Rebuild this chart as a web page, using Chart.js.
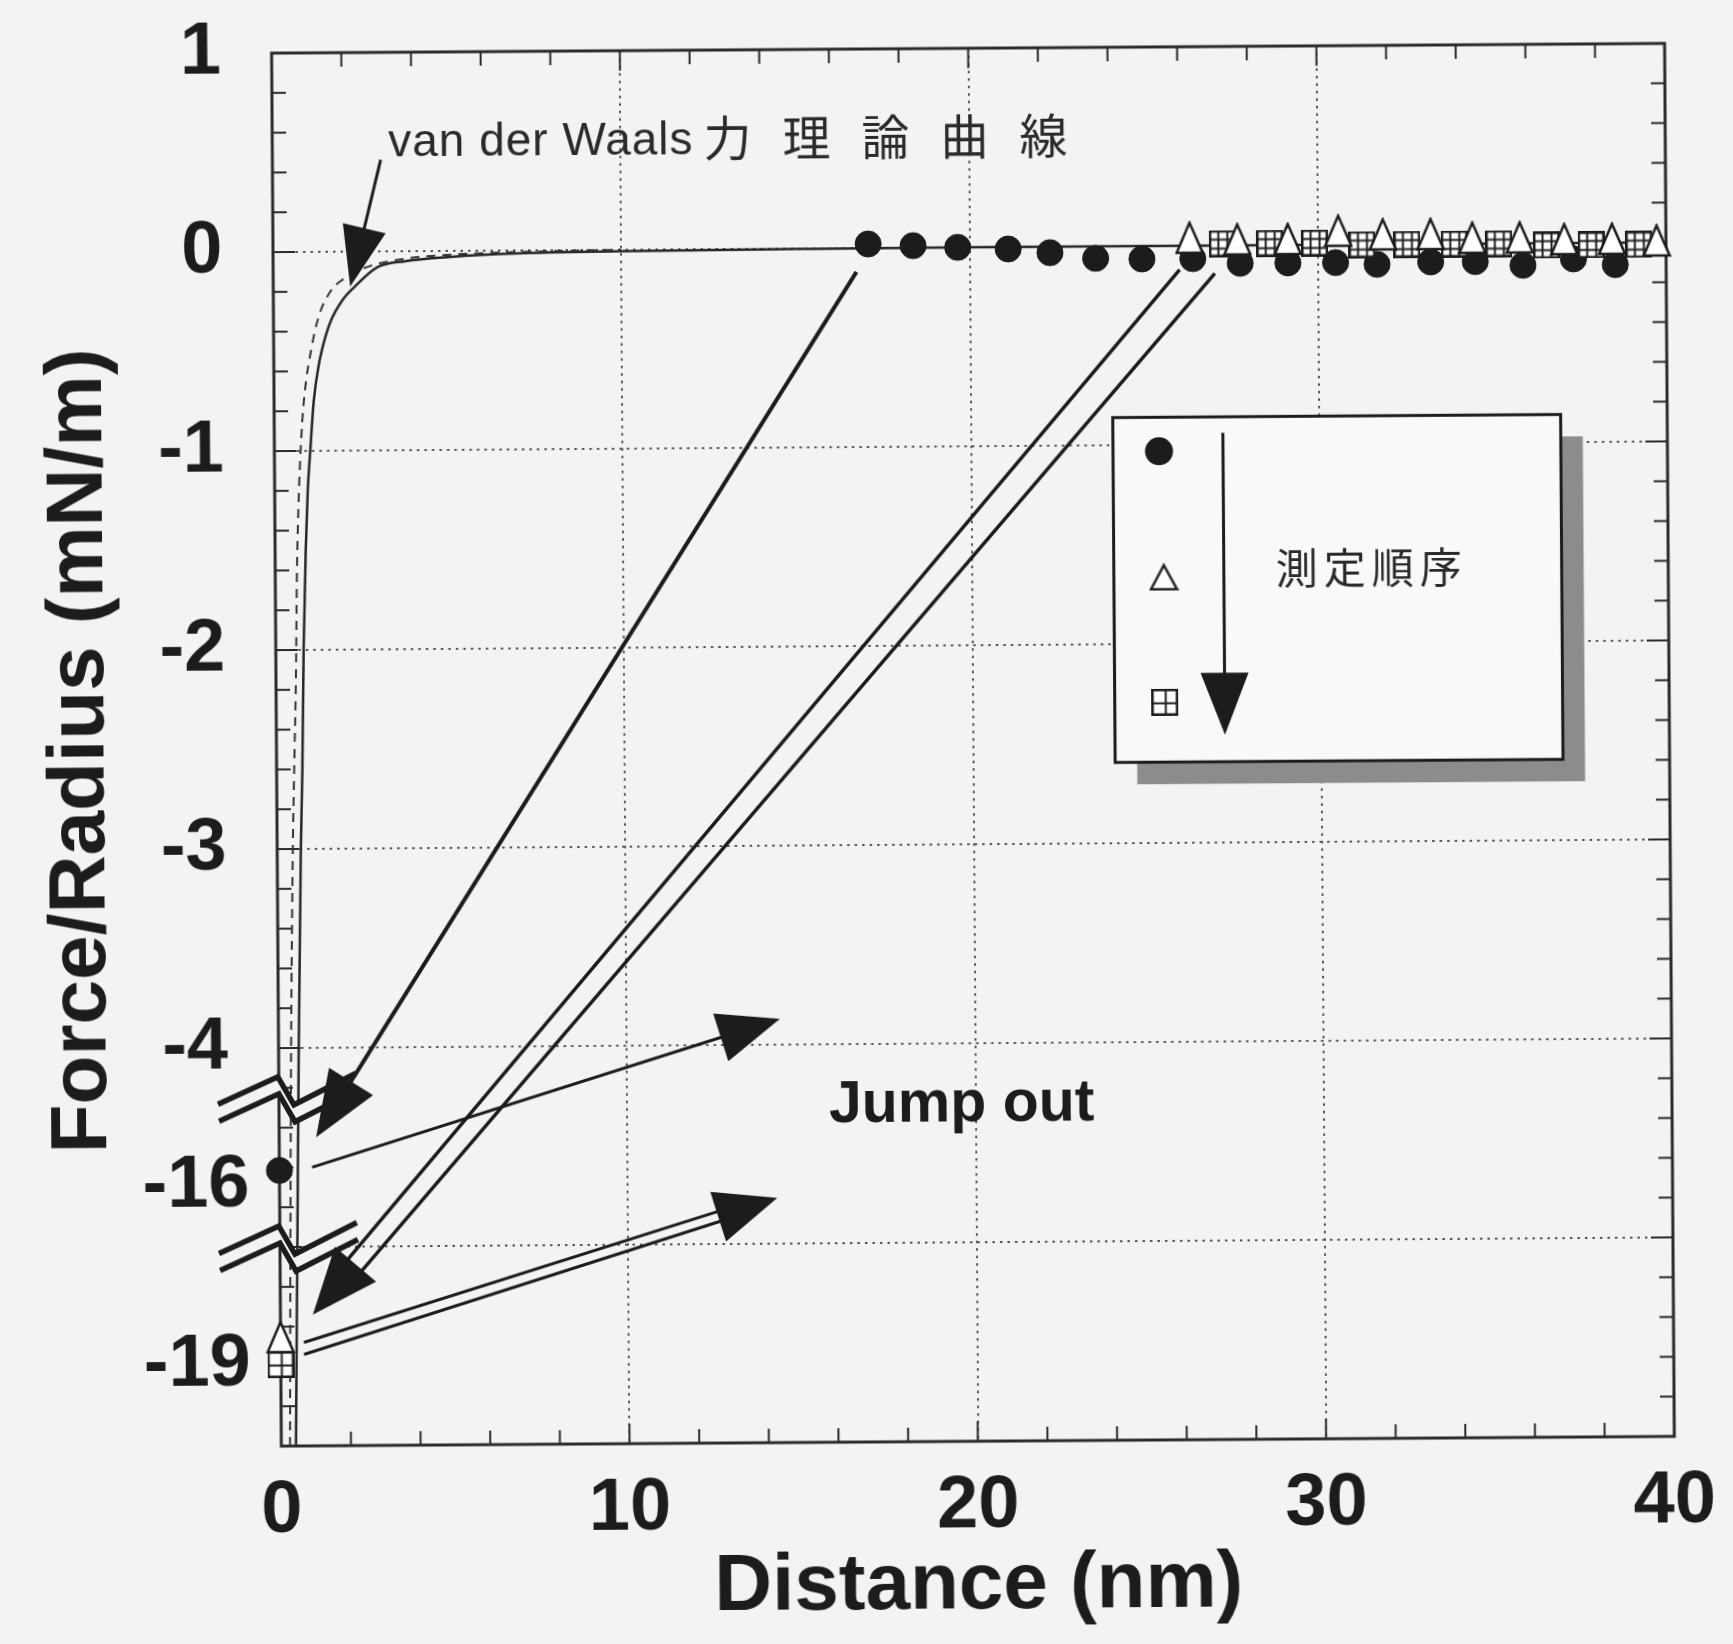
<!DOCTYPE html>
<html>
<head>
<meta charset="utf-8">
<title>Force/Radius vs Distance</title>
<script src="https://cdn.jsdelivr.net/npm/chart.js@4.4.1/dist/chart.umd.min.js"></script>
<style>
  html, body { margin: 0; padding: 0; background: #f3f3f1; overflow: hidden; }
  /* the scanned figure sits a little crooked on the page */
  #chart { display: block; transform: rotate(-0.4deg); transform-origin: 50% 50%; }
</style>
</head>
<body>
<canvas id="chart" width="1733" height="1644"></canvas>
<script>
// ---------- axes ----------
const xTicks = [0, 10, 20, 30, 40];
const xGridAt = [10, 20, 30];
const yTickPos = [1, 0, -1, -2, -3, -4, -4.69, -5, -5.59, -6];
const yTickText = ['1 ', '0 ', '-1 ', '-2 ', '-3 ', '-4 ', '-16', '', '-19', ''];
const yGridAt = [0, -1, -2, -3, -4, -5];

// broken y axis: the real values -16 / -19 are shown at these axis positions
const breakValues = [-16, -19];
const breakPos = [-4.69, -5.59];
const breakMarks = [-4.24, -4.99];

// ---------- measured points (Distance nm, Force/Radius mN/m) ----------
const circX = [0, 17.09, 18.38, 19.66, 21.11, 22.31, 23.62, 24.95, 26.41, 27.77, 29.14, 30.51, 31.70, 33.24, 34.52, 35.89, 37.34, 38.54];
const circY = [-15.7, 0.02, 0.01, 0.0, -0.01, -0.03, -0.06, -0.065, -0.065, -0.09, -0.09, -0.09, -0.10, -0.09, -0.09, -0.11, -0.08, -0.11];

const triX = [0, 26.32, 27.69, 29.14, 30.59, 31.87, 33.24, 34.44, 35.80, 37.08, 38.45, 39.73];
const triY = [-18.45, 0.04, 0.03, 0.03, 0.07, 0.05, 0.05, 0.03, 0.03, 0.02, 0.02, 0.01];

const sqX = [0, 27.26, 28.62, 29.91, 31.27, 32.56, 33.92, 35.20, 36.57, 37.85, 39.22];
const sqY = [-19.0, 0.01, 0.01, 0.01, 0.0, 0.0, 0.0, 0.0, -0.01, -0.01, -0.01];

// van der Waals theoretical curve (solid) and the second curve (dashed)
const vdwX = [0.42, 0.50, 0.58, 0.68, 0.74, 0.80, 0.88, 0.95, 1.03, 1.14, 1.29, 1.45, 1.64, 2.0, 2.32, 2.99, 3.8, 5.1, 7.0, 10, 15, 20, 40];
const vdwY = [-6.0, -5.0, -4.0, -3.0, -2.6, -2.0, -1.5, -1.2, -1.0, -0.75, -0.57, -0.45, -0.35, -0.24, -0.18, -0.08, -0.05, -0.03, -0.015, -0.008, -0.003, 0, 0];

const dashX = [0.25, 0.30, 0.36, 0.45, 0.52, 0.57, 0.62, 0.68, 0.78, 0.88, 1.09, 1.29, 1.64, 2.0, 2.67, 3.7, 5.0, 7.0, 10];
const dashY = [-6.0, -5.0, -4.0, -3.0, -2.5, -2.17, -1.64, -1.28, -0.92, -0.71, -0.48, -0.33, -0.2, -0.14, -0.08, -0.04, -0.02, -0.008, 0];

const BG = '#f3f3f1';
const INK = '#1c1c1c';
const FONT = '"Liberation Sans", Arial, sans-serif';
const CJK = '"Noto Sans CJK JP", sans-serif';

function axisY(v) {
    if (v > -10) return v;
    const k = v > -17.5 ? 0 : 1;
    return breakPos[k] + (v - breakValues[k]) * 0.25;
}

const pts = (xs, ys, f) => xs.map((x, i) => ({ x: x, y: f ? f(ys[i]) : ys[i] }));

/* square marker with a grid inside */
function gridSquare(n, size) {
    const c = document.createElement('canvas');
    c.width = c.height = size;
    const g = c.getContext('2d');
    g.fillStyle = '#fff';
    g.fillRect(0, 0, size, size);
    g.strokeStyle = INK;
    g.lineWidth = 2.5;
    g.strokeRect(1.25, 1.25, size - 2.5, size - 2.5);
    g.lineWidth = 2;
    for (let k = 1; k < n; k++) {
        const p = Math.round(k * size / n) + 0.5;
        g.beginPath(); g.moveTo(p, 0); g.lineTo(p, size); g.stroke();
        g.beginPath(); g.moveTo(0, p); g.lineTo(size, p); g.stroke();
    }
    return c;
}

/* open triangle, a bit taller than wide */
function openTriangle(w, h) {
    const c = document.createElement('canvas');
    c.width = w + 4;
    c.height = h + 4;
    const g = c.getContext('2d');
    g.beginPath();
    g.moveTo(c.width / 2, 2);
    g.lineTo(w + 2, h + 2);
    g.lineTo(2, h + 2);
    g.closePath();
    g.fillStyle = '#fff';
    g.fill();
    g.strokeStyle = INK;
    g.lineWidth = 2.5;
    g.lineJoin = 'miter';
    g.stroke();
    return c;
}

const sq3 = gridSquare(3, 27);
const sq2 = gridSquare(2, 27);
const tri = openTriangle(26, 30);
const triSmall = openTriangle(26, 24);

/* ---------- drawing helpers ---------- */
function line(ctx, x1, y1, x2, y2) {
    ctx.beginPath(); ctx.moveTo(x1, y1); ctx.lineTo(x2, y2); ctx.stroke();
}

// starts: one [x, y] pixel start per shaft line (two for a hollow shaft)
function arrow(ctx, starts, x2, y2, o) {
    const mx = starts.reduce((s, p) => s + p[0], 0) / starts.length;
    const my = starts.reduce((s, p) => s + p[1], 0) / starts.length;
    const a = Math.atan2(y2 - my, x2 - mx), c = Math.cos(a), s = Math.sin(a);
    const bx = x2 - o.len * c, by = y2 - o.len * s;
    ctx.strokeStyle = INK;
    ctx.fillStyle = INK;
    ctx.lineWidth = o.lw;
    starts.forEach(p => {
        // keep each shaft line on its own side of the centre line
        const side = (p[0] - mx) * -s + (p[1] - my) * c;
        const d = starts.length > 1 ? Math.sign(side) * o.gap / 2 : 0;
        line(ctx, p[0], p[1], bx + c * 4 - s * d, by + s * 4 + c * d);
    });
    ctx.beginPath();
    ctx.moveTo(x2, y2);
    ctx.lineTo(bx - s * o.w / 2, by + c * o.w / 2);
    ctx.lineTo(bx + s * o.w / 2, by - c * o.w / 2);
    ctx.closePath();
    ctx.fill();
}

function drawBreak(ctx, x0, y0) {
    const up = [[-61, 8], [-1, -19], [15, 9], [77, -22]];
    const off = [1, 17];
    ctx.fillStyle = BG;
    ctx.beginPath();
    up.forEach(([dx, dy], i) => i ? ctx.lineTo(x0 + dx, y0 + dy) : ctx.moveTo(x0 + dx, y0 + dy));
    for (let i = up.length - 1; i >= 0; i--) ctx.lineTo(x0 + up[i][0] + off[0], y0 + up[i][1] + off[1]);
    ctx.closePath();
    ctx.fill();
    ctx.strokeStyle = INK;
    ctx.lineWidth = 5.5;
    ctx.lineJoin = 'miter';
    [[0, 0], off].forEach(([ox, oy]) => {
        ctx.beginPath();
        up.forEach(([dx, dy], i) => i ? ctx.lineTo(x0 + dx + ox, y0 + dy + oy) : ctx.moveTo(x0 + dx + ox, y0 + dy + oy));
        ctx.stroke();
    });
}

/* annotation arrows, in axis units */
const arrows = [
    { from: [[3.11, 0.46]], to: [2.21, -0.176], len: 60, w: 44, lw: 3 },
    { from: [[16.75, -0.12]], to: [1.06, -4.45], len: 66, w: 52, lw: 4 },
    { from: [[26.03, -0.12], [27.04, -0.14]], to: [0.93, -5.34], len: 66, w: 54, lw: 3.5, gap: 18 },
    { from: [[0.94, -4.60]], to: [14.4, -3.87], len: 62, w: 50, lw: 3 },
    { from: [[0.67, -5.48], [0.67, -5.54]], to: [14.29, -4.77], len: 62, w: 52, lw: 3, gap: 10 }
];

const decor = {
    id: 'decor',
    beforeDraw(chart) {
        const ctx = chart.ctx;
        ctx.save();
        ctx.fillStyle = BG;
        ctx.fillRect(0, 0, chart.width, chart.height);
        ctx.restore();
    },
    beforeDatasetsDraw(chart) {
        const ctx = chart.ctx;
        const { left, right, top, bottom } = chart.chartArea;
        const sx = chart.scales.x, sy = chart.scales.y;
        ctx.save();
        ctx.strokeStyle = '#2a2a2a';
        ctx.lineWidth = 2;
        // inward tick marks
        for (let i = -30; i <= 5; i++) {
            const y = sy.getPixelForValue(i / 5);
            const len = i % 5 === 0 ? 22 : 14;
            line(ctx, left, y, left + len, y);
            line(ctx, right, y, right - len, y);
        }
        for (let v = 0; v <= 40; v += 2) {
            const x = sx.getPixelForValue(v);
            const len = v % 10 === 0 ? 20 : 14;
            line(ctx, x, top, x, top + len);
            line(ctx, x, bottom, x, bottom - len);
        }
        ctx.lineWidth = 3;
        ctx.strokeRect(left, top, right - left, bottom - top);
        ctx.restore();
    },
    afterDatasetsDraw(chart) {
        const ctx = chart.ctx;
        const sx = chart.scales.x, sy = chart.scales.y;
        const X = v => sx.getPixelForValue(v), Y = v => sy.getPixelForValue(v);
        ctx.save();

        breakMarks.forEach(b => drawBreak(ctx, X(0), Y(b)));

        arrows.forEach(a => arrow(ctx, a.from.map(p => [X(p[0]), Y(p[1])]), X(a.to[0]), Y(a.to[1]), a));

        // curve label
        ctx.fillStyle = '#2a2a2a';
        ctx.textBaseline = 'alphabetic';
        ctx.textAlign = 'left';
        ctx.font = '46px ' + FONT;
        ctx.letterSpacing = '1px';
        const lx = X(3.33), ly = Y(0.476);
        ctx.fillText('van der Waals', lx, ly);
        const lw = ctx.measureText('van der Waals').width;
        ctx.font = '48px ' + CJK;
        ctx.letterSpacing = '31px';
        ctx.fillText('力理論曲線', lx + lw + 10, ly + 2);
        ctx.letterSpacing = '0px';

        ctx.fillStyle = INK;
        ctx.font = 'bold 59px ' + FONT;
        ctx.fillText('Jump out', X(15.79), Y(-4.39));

        // order-of-measurement box
        const bl = X(24.08), br = X(36.94), bt = Y(-0.861), bb = Y(-2.594);
        ctx.fillStyle = '#8c8c8c';
        ctx.fillRect(bl + 22, bt + 22, br - bl, bb - bt);
        ctx.fillStyle = '#f9f9f8';
        ctx.fillRect(bl, bt, br - bl, bb - bt);
        ctx.strokeStyle = INK;
        ctx.lineWidth = 3;
        ctx.strokeRect(bl, bt, br - bl, bb - bt);

        ctx.fillStyle = INK;
        ctx.beginPath();
        ctx.arc(bl + 46, bt + 34, 14, 0, Math.PI * 2);
        ctx.fill();
        ctx.drawImage(triSmall, bl + 50 - triSmall.width / 2, bt + 160 - triSmall.height / 2);
        ctx.drawImage(sq2, bl + 50 - sq2.width / 2, bt + 285 - sq2.height / 2);

        arrow(ctx, [[bl + 110, bt + 16]], bl + 110, bt + 318, { len: 62, w: 48, lw: 3 });

        ctx.fillStyle = '#2a2a2a';
        ctx.font = '42px ' + CJK;
        ctx.letterSpacing = '6px';
        ctx.textAlign = 'center';
        ctx.textBaseline = 'middle';
        ctx.fillText('測定順序', bl + 258, bt + 152);
        ctx.restore();
    }
};

new Chart(document.getElementById('chart').getContext('2d'), {
    type: 'scatter',
    data: {
        datasets: [
            {
                label: 'van der Waals',
                data: pts(vdwX, vdwY),
                showLine: true,
                borderColor: '#262626',
                borderWidth: 2.5,
                pointRadius: 0,
                cubicInterpolationMode: 'monotone',
                clip: false,
                order: 5
            },
            {
                label: 'curve 2',
                data: pts(dashX, dashY),
                showLine: true,
                borderColor: '#333',
                borderWidth: 2,
                borderDash: [9, 7],
                pointRadius: 0,
                cubicInterpolationMode: 'monotone',
                clip: false,
                order: 4
            },
            {
                label: '●',
                data: pts(circX, circY, axisY),
                pointStyle: 'circle',
                pointRadius: 13,
                backgroundColor: INK,
                borderColor: INK,
                borderWidth: 1,
                clip: false,
                order: 3
            },
            {
                label: '⊞',
                data: pts(sqX, sqY, axisY),
                pointStyle: c => c.dataIndex === 0 ? sq2 : sq3,
                clip: false,
                order: 2
            },
            {
                label: '△',
                data: pts(triX, triY, axisY),
                pointStyle: tri,
                clip: false,
                order: 1
            }
        ]
    },
    options: {
        responsive: false,
        animation: false,
        layout: { padding: { top: 49, right: 63, left: 0, bottom: 0 } },
        plugins: { legend: { display: false }, tooltip: { enabled: false } },
        scales: {
            x: {
                type: 'linear',
                min: 0,
                max: 40,
                afterBuildTicks: s => { s.ticks = xTicks.map(v => ({ value: v })); },
                afterFit: s => { s.height = 202; s.paddingLeft = 0; s.paddingRight = 0; },
                ticks: {
                    padding: 21,
                    autoSkip: false,
                    maxRotation: 0,
                    color: INK,
                    font: { family: FONT, size: 74, weight: 'bold' },
                    callback: v => String(v)
                },
                grid: {
                    drawTicks: false,
                    lineWidth: 2,
                    color: c => (c.tick && xGridAt.includes(c.tick.value)) ? '#555' : 'rgba(0,0,0,0)'
                },
                border: { display: false, dash: [2.5, 5] },
                title: {
                    display: true,
                    text: 'Distance (nm)',
                    color: INK,
                    font: { family: FONT, size: 80, weight: 'bold' },
                    padding: { top: 0, bottom: 9 }
                }
            },
            y: {
                type: 'linear',
                min: -6,
                max: 1,
                afterBuildTicks: s => { s.ticks = yTickPos.map(v => ({ value: v })); },
                afterFit: s => { s.width = 277; s.paddingTop = 0; s.paddingBottom = 0; },
                ticks: {
                    padding: 30,
                    autoSkip: false,
                    color: INK,
                    font: { family: FONT, size: 74, weight: 'bold' },
                    callback: v => {
                        const i = yTickPos.findIndex(p => Math.abs(p - v) < 1e-6);
                        return i < 0 ? '' : yTickText[i];
                    }
                },
                grid: {
                    drawTicks: false,
                    lineWidth: 2,
                    color: c => (c.tick && yGridAt.includes(c.tick.value)) ? '#555' : 'rgba(0,0,0,0)'
                },
                border: { display: false, dash: [2.5, 5] },
                title: {
                    display: true,
                    text: 'Force/Radius (mN/m)',
                    color: INK,
                    font: { family: FONT, size: 80, weight: 'bold' },
                    padding: { top: 34, bottom: 0 }
                }
            }
        }
    },
    plugins: [decor]
});
</script>
</body>
</html>
